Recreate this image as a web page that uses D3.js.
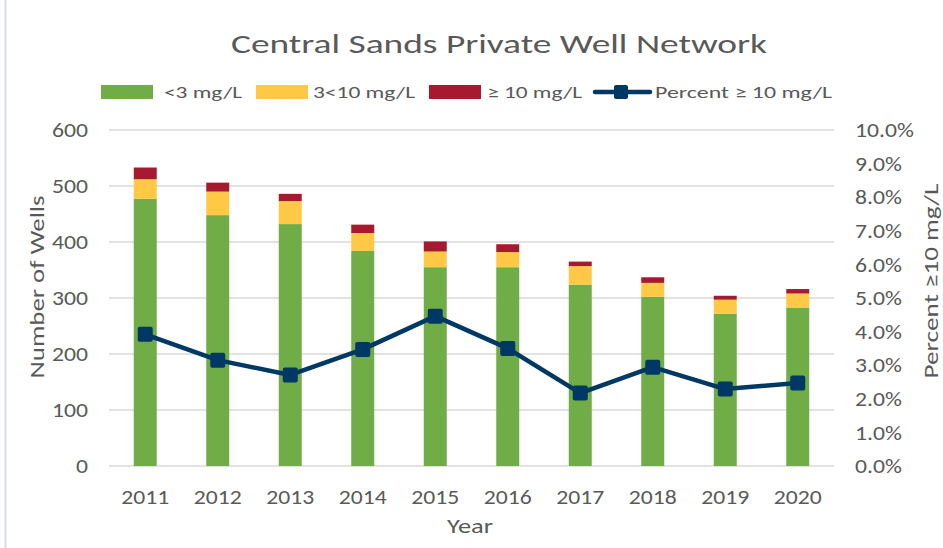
<!DOCTYPE html>
<html>
<head>
<meta charset="utf-8">
<script src="https://cdn.jsdelivr.net/npm/d3@7"></script>
<style>
  body { margin: 0; background: #fff; }
  svg text { font-family: Carlito, Calibri, Lato, sans-serif; fill: #595959; }
</style>
</head>
<body>
<div id="chart"></div>
<script>
// Data
const years = ['2011', '2012', '2013', '2014', '2015', '2016', '2017', '2018', '2019', '2020'];
const below3 = [477, 448, 432, 384, 355, 355, 324, 302, 272, 283];
const from3to10 = [35, 42, 41, 32, 28, 27, 33, 25, 25, 25];
const atLeast10 = [21, 16, 13, 15, 18, 14, 8, 10, 7, 8];
const percentAtLeast10 = [0.0392, 0.0315, 0.0271, 0.0347, 0.0446, 0.0350, 0.0217, 0.0294, 0.0229, 0.0247];
const leftTicks = [0, 100, 200, 300, 400, 500, 600];
const rightTicks = [0, 0.01, 0.02, 0.03, 0.04, 0.05, 0.06, 0.07, 0.08, 0.09, 0.10];

const seriesNames = ['<3 mg/L', '3<10 mg/L', '\u2265 10 mg/L'];
const seriesColors = ['#70ad47', '#ffc845', '#a6192e'];
const lineName = 'Percent \u2265 10 mg/L';
const lineColor = '#003865';

const width = 943, height = 548;
const plot = { left: 109, right: 834, top: 130, bottom: 466 };

// the reference text is wider than Lato, so stretch glyphs horizontally
function stretch(sel, factor) {
  sel.each(function () {
    const w = this.getComputedTextLength();
    d3.select(this)
      .attr('textLength', w * factor)
      .attr('lengthAdjust', 'spacingAndGlyphs');
  });
}
function fitTo(sel, target) {
  sel.attr('textLength', target).attr('lengthAdjust', 'spacingAndGlyphs');
}

const svg = d3.select('#chart').append('svg')
  .attr('width', width)
  .attr('height', height);

// faint frame edge on the left
svg.append('line')
  .attr('x1', 5.5).attr('x2', 5.5)
  .attr('y1', 0).attr('y2', height)
  .attr('stroke', '#d5dbe3').attr('stroke-width', 2);

const x = d3.scaleBand()
  .domain(years)
  .range([plot.left, plot.right])
  .paddingInner(0.683)
  .paddingOuter(0.3415);

const y = d3.scaleLinear().domain([0, 600]).range([plot.bottom, plot.top]);
const yPct = d3.scaleLinear().domain([0, 0.10]).range([plot.bottom, plot.top]);

// gridlines
svg.append('g')
  .selectAll('line')
  .data(leftTicks)
  .join('line')
  .attr('x1', plot.left).attr('x2', plot.right)
  .attr('y1', d => y(d)).attr('y2', d => y(d))
  .attr('stroke', '#d9d9d9').attr('stroke-width', 1.5);

// left axis labels
const leftAxis = d3.axisLeft(y).tickValues(leftTicks).tickSize(0).tickPadding(21);
const leftG = svg.append('g')
  .attr('transform', `translate(${plot.left},0)`)
  .call(leftAxis)
  .call(g => g.select('.domain').remove())
  .call(g => g.selectAll('text').attr('font-size', 21));

// right axis labels
const rightAxis = d3.axisRight(yPct).tickValues(rightTicks).tickSize(0).tickPadding(21)
  .tickFormat(d3.format('.1%'));
const rightG = svg.append('g')
  .attr('transform', `translate(${plot.right},0)`)
  .call(rightAxis)
  .call(g => g.select('.domain').remove())
  .call(g => g.selectAll('text').attr('font-size', 21));

// bottom axis labels
const bottomAxis = d3.axisBottom(x).tickSize(0).tickPadding(23);
const bottomG = svg.append('g')
  .attr('transform', `translate(0,${plot.bottom})`)
  .call(bottomAxis)
  .call(g => g.select('.domain').remove())
  .call(g => g.selectAll('text').attr('font-size', 21));

// tick label stretch, sized so "600" is about 36px wide like the reference
const sample = leftG.selectAll('text').filter(d => d === 600).node();
const tickFactor = 36 / sample.getComputedTextLength();
stretch(leftG.selectAll('text'), tickFactor);
stretch(rightG.selectAll('text'), tickFactor);
stretch(bottomG.selectAll('text'), tickFactor);

// stacked bars
const rows = years.map((yr, i) => ({ year: yr, s0: below3[i], s1: from3to10[i], s2: atLeast10[i] }));
const stack = d3.stack().keys(['s0', 's1', 's2'])(rows);

svg.append('g')
  .selectAll('g')
  .data(stack)
  .join('g')
  .attr('fill', (d, i) => seriesColors[i])
  .selectAll('rect')
  .data(d => d)
  .join('rect')
  .attr('x', d => x(d.data.year))
  .attr('width', x.bandwidth())
  .attr('y', d => y(d[1]))
  .attr('height', d => y(d[0]) - y(d[1]));

// percent line
const line = d3.line()
  .x((d, i) => x(years[i]) + x.bandwidth() / 2)
  .y(d => yPct(d));

svg.append('path')
  .datum(percentAtLeast10)
  .attr('d', line)
  .attr('fill', 'none')
  .attr('stroke', lineColor)
  .attr('stroke-width', 4.5)
  .attr('stroke-linejoin', 'round');

const markerSize = 15;
svg.append('g')
  .selectAll('rect')
  .data(percentAtLeast10)
  .join('rect')
  .attr('x', (d, i) => x(years[i]) + x.bandwidth() / 2 - markerSize / 2)
  .attr('y', d => yPct(d) - markerSize / 2)
  .attr('width', markerSize).attr('height', markerSize)
  .attr('rx', 2)
  .attr('fill', lineColor);

// title
svg.append('text')
  .attr('x', 499).attr('y', 53)
  .attr('text-anchor', 'middle')
  .attr('font-size', 26)
  .text('Central Sands Private Well Network')
  .call(fitTo, 536);

// axis titles
svg.append('text')
  .attr('transform', 'translate(44,287) rotate(-90)')
  .attr('text-anchor', 'middle')
  .attr('font-size', 21)
  .text('Number of Wells')
  .call(fitTo, 183);

svg.append('text')
  .attr('transform', 'translate(938,281) rotate(-90)')
  .attr('text-anchor', 'middle')
  .attr('font-size', 21)
  .text('Percent  \u226510 mg/L')
  .call(fitTo, 195);

svg.append('text')
  .attr('x', 470).attr('y', 533)
  .attr('text-anchor', 'middle')
  .attr('font-size', 21)
  .text('Year')
  .call(fitTo, 46);

// legend
const legend = svg.append('g');
const legendItems = [
  { name: seriesNames[0], color: seriesColors[0], x: 101, textX: 164, w: 78 },
  { name: seriesNames[1], color: seriesColors[1], x: 256, textX: 313, w: 102 },
  { name: seriesNames[2], color: seriesColors[2], x: 429, textX: 487, w: 95 }
];
legendItems.forEach(it => {
  legend.append('rect')
    .attr('x', it.x).attr('y', 85)
    .attr('width', 52).attr('height', 14)
    .attr('fill', it.color);
  legend.append('text')
    .attr('x', it.textX).attr('y', 92)
    .attr('dy', '0.35em')
    .attr('font-size', 17)
    .text(it.name)
    .call(fitTo, it.w);
});
legend.append('line')
  .attr('x1', 595).attr('x2', 650)
  .attr('y1', 92).attr('y2', 92)
  .attr('stroke', lineColor).attr('stroke-width', 4.5).attr('stroke-linecap', 'round');
legend.append('rect')
  .attr('x', 621 - 7).attr('y', 92 - 7)
  .attr('width', 14).attr('height', 14)
  .attr('rx', 2)
  .attr('fill', lineColor);
legend.append('text')
  .attr('x', 655).attr('y', 92)
  .attr('dy', '0.35em')
  .attr('font-size', 17)
  .text(lineName)
  .call(fitTo, 177);
</script>
</body>
</html>
